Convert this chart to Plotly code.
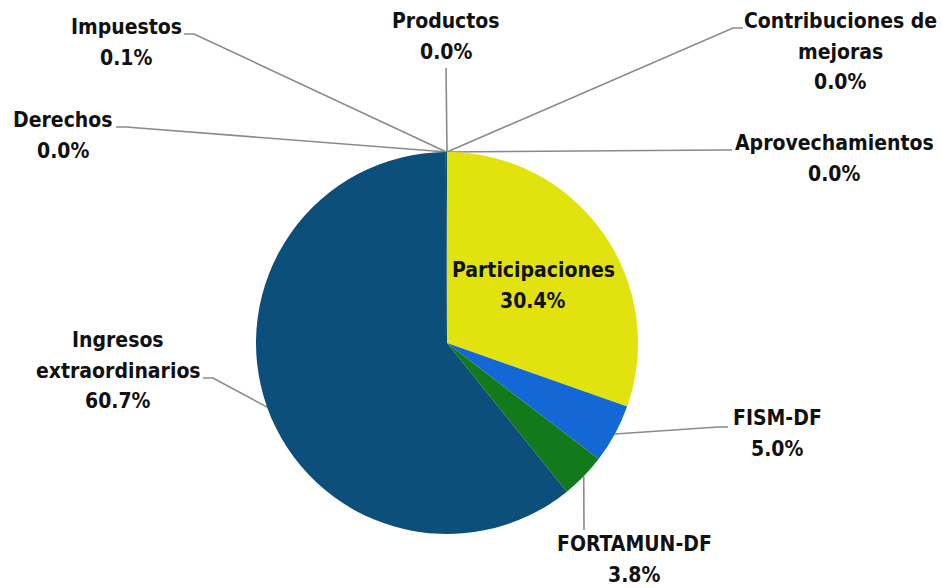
import math
import plotly.graph_objects as go

# ---- data ----
categories = ["Participaciones", "FISM-DF", "FORTAMUN-DF", "Ingresos extraordinarios",
              "Impuestos", "Derechos", "Productos", "Contribuciones de mejoras", "Aprovechamientos"]
shares = [30.4, 5.0, 3.8, 60.7, 0.1, 0.0, 0.0, 0.0, 0.0]
label_lines = [["Participaciones"], ["FISM-DF"], ["FORTAMUN-DF"], ["Ingresos", "extraordinarios"],
               ["Impuestos"], ["Derechos"], ["Productos"], ["Contribuciones de", "mejoras"],
               ["Aprovechamientos"]]
colors = ["#e2e20e", "#1468d6", "#137a1c", "#0c4f7a", "#0c4f7a", "#888888", "#888888", "#888888", "#888888"]

W, H = 942, 588
CX, CY, R = 447, 343, 191
LINE_GAP = 30.5

# ---- layout positions (pixels): label centre x, first-line y, leader-line start ----
label_pos = {
    "Participaciones": (533, 270, None),
    "FISM-DF": (777, 418, [(728, 427), (718, 427)]),
    "FORTAMUN-DF": (634, 544, [(584, 530)]),
    "Ingresos extraordinarios": (118, 340, [(203, 378), (213, 378)]),
    "Impuestos": (126, 27, [(184, 34), (194, 34)]),
    "Derechos": (63, 120, [(116, 127), (126, 127)]),
    "Productos": (446, 21, [(446, 68)]),
    "Contribuciones de mejoras": (840, 21, [(743, 28), (733, 28)]),
    "Aprovechamientos": (834, 143, [(732, 150), (722, 150)]),
}

FONT = "Liberation Sans Narrow, Arial Narrow, DejaVu Sans Condensed, Arial, sans-serif"

fig = go.Figure()
fig.add_trace(go.Pie(
    labels=categories, values=shares, sort=False, direction="clockwise", rotation=0,
    marker=dict(colors=colors, line=dict(width=0)), textinfo="none", hoverinfo="label+percent",
    showlegend=False,
    domain=dict(x=[(CX - R) / W, (CX + R) / W], y=[1 - (CY + R) / H, 1 - (CY - R) / H]),
))

# leader lines anchored on slice mid-angles computed from the data
total = sum(shares)
cum = 0.0
annotations = []
for cat, val, lines in zip(categories, shares, label_lines):
    start = cum
    cum += val
    mid = (start + cum) / 2 / total * 2 * math.pi
    ax = CX + R * math.sin(mid)
    ay = CY - R * math.cos(mid)
    lx, ly, pts = label_pos[cat]
    if pts is not None:
        xs = [p[0] for p in pts] + [ax]
        ys = [p[1] for p in pts] + [ay]
        fig.add_trace(go.Scatter(x=xs, y=ys, mode="lines", line=dict(color="#8a8a8a", width=1.6),
                                 hoverinfo="skip", showlegend=False, xaxis="x", yaxis="y"))
    for i, t in enumerate(lines + [f"{val:.1f}%"]):
        annotations.append(dict(
            x=lx, y=ly + i * LINE_GAP, xref="x", yref="y", showarrow=False,
            text=f"<b>{t}</b>", borderpad=0,
            font=dict(family=FONT, size=21, color="#111111"), align="center",
        ))

fig.update_layout(
    width=W, height=H, margin=dict(l=0, r=0, t=0, b=0),
    paper_bgcolor="white", plot_bgcolor="rgba(0,0,0,0)",
    xaxis=dict(range=[0, W], visible=False, fixedrange=True),
    yaxis=dict(range=[H, 0], visible=False, fixedrange=True),
    annotations=annotations,
)
fig.write_html("out.html", config={"displayModeBar": False},
               post_script="document.body.style.margin='0';document.body.style.overflow='hidden';")
